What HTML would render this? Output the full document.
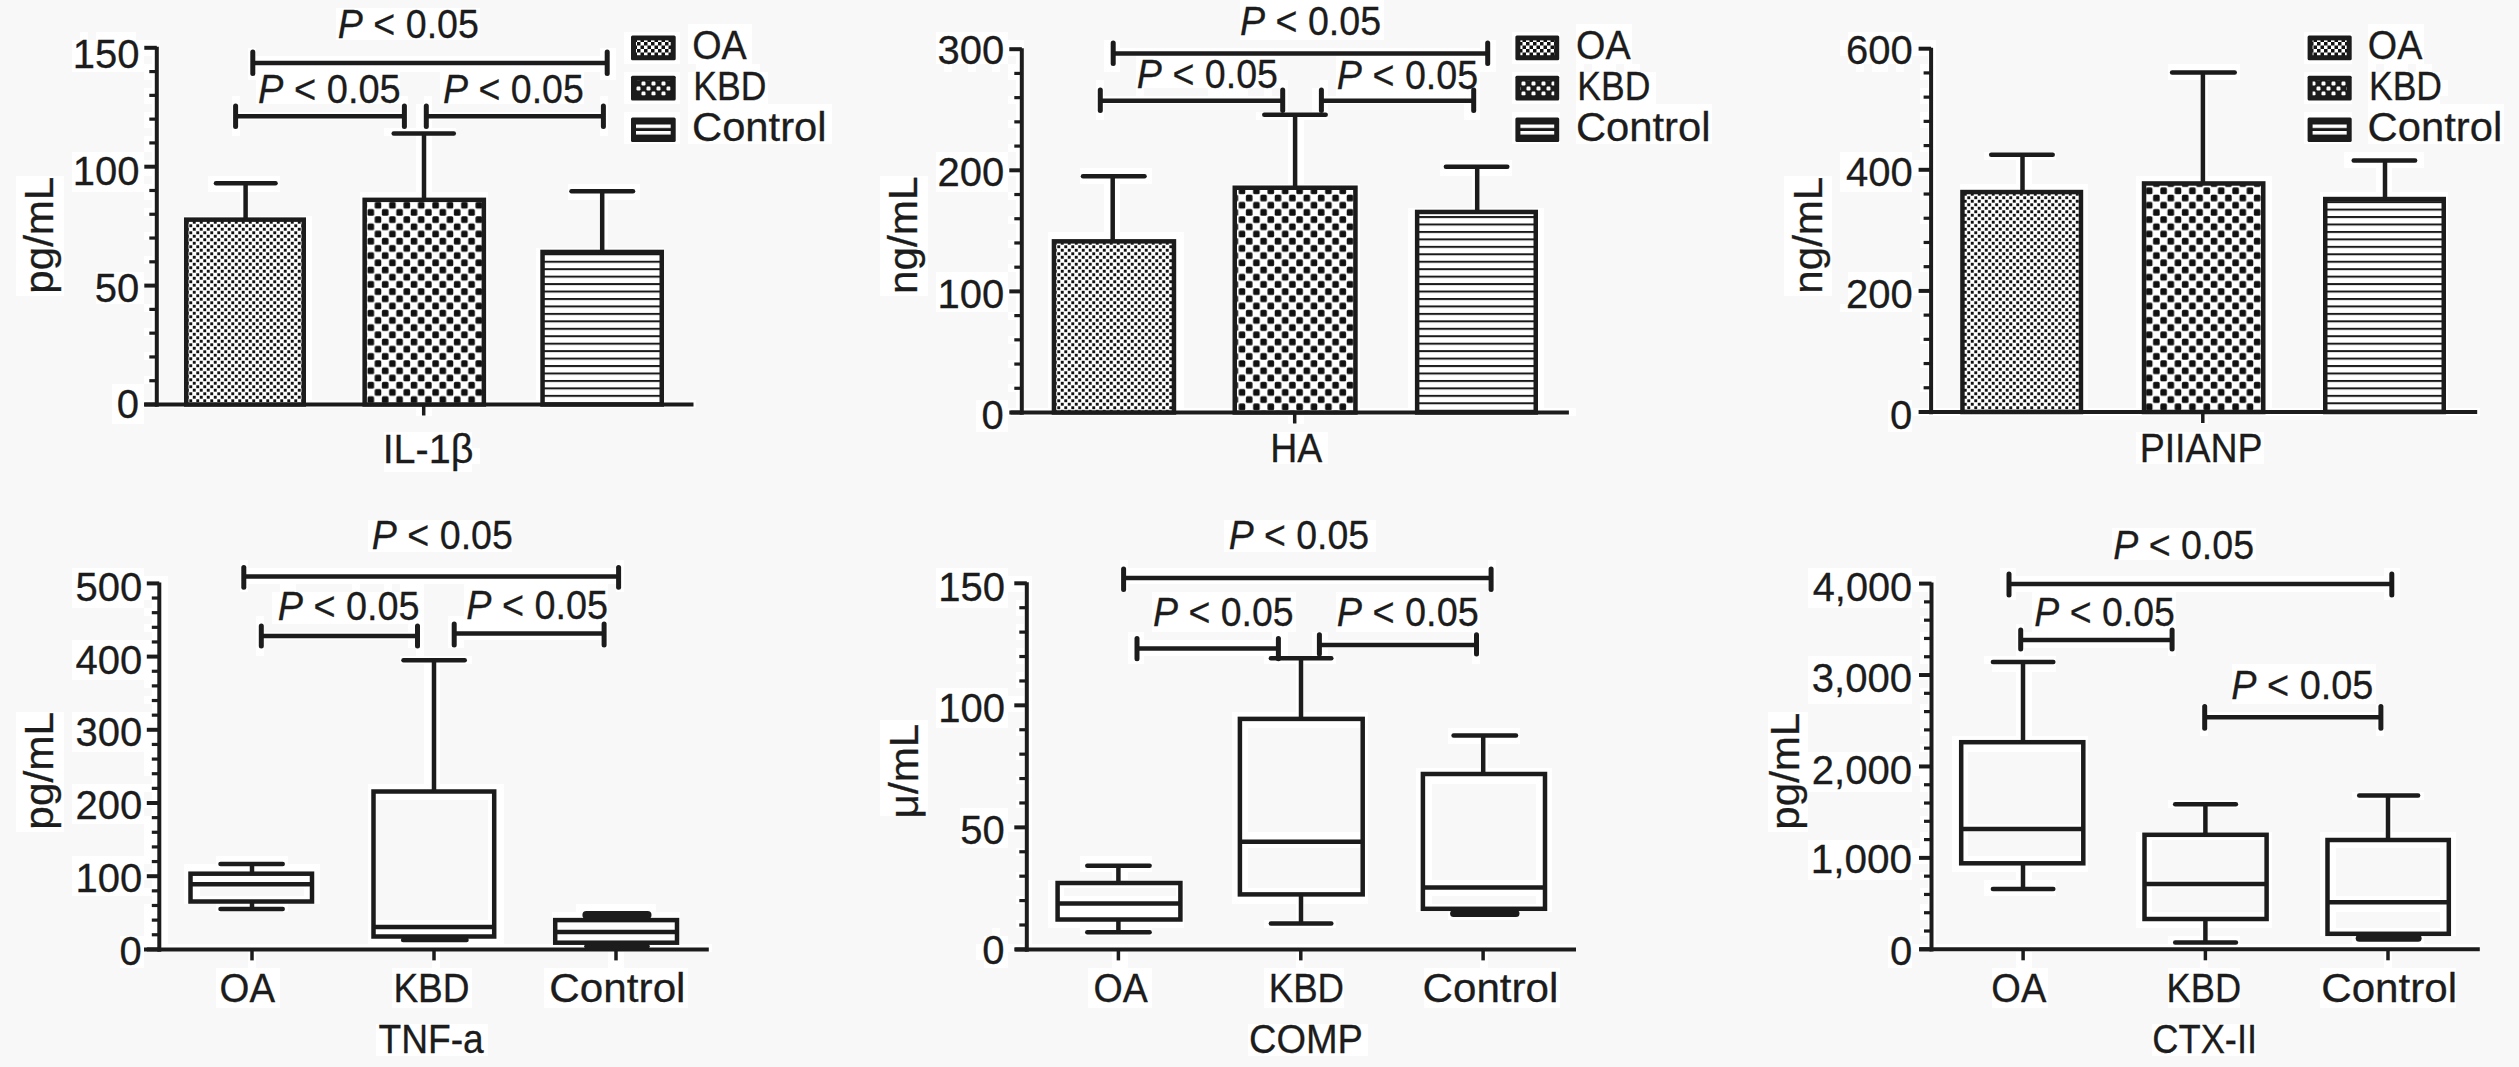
<!DOCTYPE html>
<html><head><meta charset="utf-8"><style>
html,body{margin:0;padding:0;background:#f8f8f8;}
svg{display:block;}
</style></head><body>
<svg width="2519" height="1067" viewBox="0 0 2519 1067" font-family="'Liberation Sans', sans-serif" font-size="40" fill="#1c1c1c" stroke="#1c1c1c">
<defs stroke="none">
<pattern id="pOA" patternUnits="userSpaceOnUse" width="7" height="7">
 <rect width="7" height="7" fill="#fff"/><rect x="0.3" y="0.3" width="2.9" height="2.9" fill="#111"/><rect x="3.8" y="3.8" width="2.9" height="2.9" fill="#111"/></pattern>
<pattern id="pKBD" patternUnits="userSpaceOnUse" width="14.4" height="14.4">
 <rect width="14.4" height="14.4" fill="#fff"/><rect x="0.3" y="0.3" width="6.6" height="6.6" rx="1.5" fill="#111"/><rect x="7.5" y="7.5" width="6.6" height="6.6" rx="1.5" fill="#111"/></pattern>
<pattern id="pCT" patternUnits="userSpaceOnUse" width="10" height="7.45">
 <rect width="10" height="7.45" fill="#fff"/><rect y="0" width="10" height="2" fill="#1a1a1a"/></pattern>
<pattern id="lgOA" patternUnits="userSpaceOnUse" width="7" height="7">
 <rect width="7" height="7" fill="#fff"/><rect width="3.5" height="3.5" fill="#111"/><rect x="3.5" y="3.5" width="3.5" height="3.5" fill="#111"/></pattern>
<pattern id="lgKBD" patternUnits="userSpaceOnUse" width="10" height="10" x="1" y="1">
 <rect width="10" height="10" fill="#1c1c1c"/><rect x="0.5" y="0.5" width="4" height="4" rx="1.2" fill="#fff"/><rect x="5.5" y="5.5" width="4" height="4" rx="1.2" fill="#fff"/></pattern>
<pattern id="lgCT" patternUnits="userSpaceOnUse" width="10" height="6.5" y="1">
 <rect width="10" height="6.5" fill="#fff"/><rect y="3.5" width="10" height="3" fill="#1a1a1a"/></pattern>
</defs>
<rect width="2519" height="1067" fill="#f8f8f8" stroke="none"/>
<path fill="#fff" stroke="none" d="M1240 0h144v8h-144zM336 8h144v8h-144zM1240 8h144v8h-144zM336 16h144v8h-144zM1240 16h144v8h-144zM336 24h144v8h-144zM688 24h64v8h-64zM1240 24h144v8h-144zM1576 24h56v8h-56zM2368 24h56v8h-56zM80 32h8v8h-8zM96 32h40v8h-40zM336 32h144v8h-144zM624 32h56v8h-56zM688 32h64v8h-64zM936 32h72v8h-72zM1240 32h144v8h-144zM1512 32h48v8h-48zM1576 32h56v8h-56zM1848 32h64v8h-64zM2304 32h48v8h-48zM2368 32h56v8h-56zM72 40h88v8h-88zM624 40h56v8h-56zM688 40h64v8h-64zM936 40h88v8h-88zM1104 40h16v8h-16zM1480 40h16v8h-16zM1512 40h48v8h-48zM1576 40h56v8h-56zM1840 40h96v8h-96zM2304 40h48v8h-48zM2368 40h56v8h-56zM72 48h88v8h-88zM248 48h8v8h-8zM600 48h16v8h-16zM624 48h56v8h-56zM688 48h64v8h-64zM936 48h88v8h-88zM1104 48h392v8h-392zM1512 48h48v8h-48zM1576 48h56v8h-56zM1840 48h96v8h-96zM2304 48h48v8h-48zM2368 48h56v8h-56zM72 56h72v8h-72zM152 56h8v8h-8zM248 56h368v8h-368zM624 56h56v8h-56zM688 56h64v8h-64zM936 56h72v8h-72zM1016 56h8v8h-8zM1104 56h16v8h-16zM1136 56h144v8h-144zM1336 56h160v8h-160zM1512 56h48v8h-48zM1576 56h56v8h-56zM1848 56h64v8h-64zM1928 56h8v8h-8zM2304 56h48v8h-48zM2368 56h56v8h-56zM72 64h88v8h-88zM248 64h368v8h-368zM696 64h64v8h-64zM944 64h8v8h-8zM968 64h8v8h-8zM992 64h8v8h-8zM1008 64h16v8h-16zM1104 64h16v8h-16zM1136 64h144v8h-144zM1336 64h160v8h-160zM1576 64h8v8h-8zM1592 64h24v8h-24zM1624 64h16v8h-16zM1856 64h8v8h-8zM1872 64h16v8h-16zM1896 64h8v8h-8zM1920 64h16v8h-16zM2168 64h72v8h-72zM2368 64h8v8h-8zM2384 64h24v8h-24zM2416 64h16v8h-16zM144 72h16v8h-16zM248 72h152v8h-152zM440 72h144v8h-144zM600 72h16v8h-16zM624 72h56v8h-56zM688 72h80v8h-80zM1008 72h16v8h-16zM1136 72h144v8h-144zM1336 72h144v8h-144zM1512 72h48v8h-48zM1576 72h80v8h-80zM1920 72h16v8h-16zM2168 72h72v8h-72zM2304 72h48v8h-48zM2368 72h72v8h-72zM152 80h8v8h-8zM256 80h144v8h-144zM440 80h144v8h-144zM624 80h56v8h-56zM688 80h80v8h-80zM1016 80h8v8h-8zM1096 80h8v8h-8zM1136 80h152v8h-152zM1320 80h8v8h-8zM1336 80h144v8h-144zM1512 80h48v8h-48zM1576 80h80v8h-80zM1928 80h8v8h-8zM2200 80h8v8h-8zM2304 80h48v8h-48zM2368 80h80v8h-80zM144 88h16v8h-16zM256 88h144v8h-144zM440 88h144v8h-144zM624 88h56v8h-56zM688 88h80v8h-80zM1016 88h8v8h-8zM1096 88h8v8h-8zM1136 88h8v8h-8zM1208 88h40v8h-40zM1264 88h8v8h-8zM1280 88h8v8h-8zM1312 88h16v8h-16zM1336 88h144v8h-144zM1512 88h48v8h-48zM1576 88h80v8h-80zM1920 88h16v8h-16zM2200 88h8v8h-8zM2304 88h48v8h-48zM2368 88h80v8h-80zM144 96h16v8h-16zM232 96h8v8h-8zM256 96h152v8h-152zM424 96h8v8h-8zM440 96h144v8h-144zM600 96h8v8h-8zM624 96h56v8h-56zM688 96h80v8h-80zM1008 96h16v8h-16zM1096 96h192v8h-192zM1312 96h168v8h-168zM1512 96h48v8h-48zM1576 96h80v8h-80zM1920 96h16v8h-16zM2200 96h8v8h-8zM2304 96h48v8h-48zM2368 96h72v8h-72zM152 104h8v8h-8zM232 104h8v8h-8zM400 104h8v8h-8zM416 104h16v8h-16zM600 104h8v8h-8zM688 104h144v8h-144zM1016 104h8v8h-8zM1096 104h8v8h-8zM1280 104h8v8h-8zM1312 104h16v8h-16zM1464 104h16v8h-16zM1576 104h136v8h-136zM1928 104h8v8h-8zM2200 104h8v8h-8zM2368 104h136v8h-136zM144 112h16v8h-16zM232 112h176v8h-176zM416 112h192v8h-192zM624 112h56v8h-56zM688 112h144v8h-144zM1016 112h8v8h-8zM1096 112h8v8h-8zM1256 112h72v8h-72zM1464 112h16v8h-16zM1512 112h48v8h-48zM1576 112h136v8h-136zM1920 112h16v8h-16zM2200 112h8v8h-8zM2304 112h48v8h-48zM2368 112h136v8h-136zM144 120h16v8h-16zM232 120h8v8h-8zM400 120h8v8h-8zM416 120h16v8h-16zM600 120h8v8h-8zM624 120h56v8h-56zM688 120h144v8h-144zM1008 120h16v8h-16zM1288 120h16v8h-16zM1512 120h48v8h-48zM1576 120h136v8h-136zM1920 120h16v8h-16zM2200 120h8v8h-8zM2304 120h48v8h-48zM2368 120h136v8h-136zM152 128h8v8h-8zM232 128h8v8h-8zM384 128h72v8h-72zM600 128h8v8h-8zM624 128h56v8h-56zM688 128h144v8h-144zM1016 128h8v8h-8zM1288 128h16v8h-16zM1512 128h48v8h-48zM1576 128h136v8h-136zM1928 128h8v8h-8zM2200 128h8v8h-8zM2304 128h48v8h-48zM2368 128h136v8h-136zM144 136h16v8h-16zM416 136h16v8h-16zM624 136h56v8h-56zM688 136h144v8h-144zM1016 136h8v8h-8zM1288 136h16v8h-16zM1512 136h48v8h-48zM1576 136h136v8h-136zM1928 136h8v8h-8zM2200 136h8v8h-8zM2304 136h48v8h-48zM2368 136h136v8h-136zM144 144h16v8h-16zM416 144h16v8h-16zM1008 144h16v8h-16zM1288 144h16v8h-16zM1920 144h16v8h-16zM2200 144h8v8h-8zM72 152h72v8h-72zM152 152h8v8h-8zM416 152h16v8h-16zM936 152h72v8h-72zM1016 152h8v8h-8zM1288 152h16v8h-16zM1840 152h72v8h-72zM1928 152h8v8h-8zM1984 152h72v8h-72zM2200 152h8v8h-8zM2344 152h80v8h-80zM72 160h88v8h-88zM416 160h16v8h-16zM936 160h72v8h-72zM1016 160h8v8h-8zM1288 160h16v8h-16zM1440 160h72v8h-72zM1840 160h96v8h-96zM2016 160h16v8h-16zM2200 160h8v8h-8zM2344 160h80v8h-80zM72 168h88v8h-88zM416 168h16v8h-16zM936 168h88v8h-88zM1080 168h72v8h-72zM1288 168h16v8h-16zM1440 168h72v8h-72zM1840 168h96v8h-96zM2016 168h16v8h-16zM2200 168h8v8h-8zM2376 168h16v8h-16zM16 176h48v8h-48zM72 176h72v8h-72zM152 176h8v8h-8zM208 176h72v8h-72zM416 176h16v8h-16zM880 176h48v8h-48zM936 176h72v8h-72zM1016 176h8v8h-8zM1080 176h72v8h-72zM1288 176h16v8h-16zM1472 176h8v8h-8zM1784 176h48v8h-48zM1840 176h72v8h-72zM1928 176h8v8h-8zM2016 176h16v8h-16zM2136 176h136v8h-136zM2376 176h16v8h-16zM16 184h48v8h-48zM72 184h88v8h-88zM208 184h72v8h-72zM416 184h16v8h-16zM568 184h72v8h-72zM880 184h48v8h-48zM936 184h72v8h-72zM1016 184h8v8h-8zM1104 184h16v8h-16zM1232 184h128v8h-128zM1472 184h8v8h-8zM1784 184h48v8h-48zM1840 184h72v8h-72zM1928 184h8v8h-8zM1960 184h128v8h-128zM2136 184h136v8h-136zM2376 184h16v8h-16zM16 192h48v8h-48zM144 192h16v8h-16zM240 192h8v8h-8zM360 192h128v8h-128zM568 192h72v8h-72zM880 192h48v8h-48zM1008 192h16v8h-16zM1104 192h16v8h-16zM1232 192h128v8h-128zM1472 192h8v8h-8zM1784 192h48v8h-48zM1920 192h16v8h-16zM1960 192h128v8h-128zM2136 192h136v8h-136zM2320 192h128v8h-128zM16 200h48v8h-48zM152 200h8v8h-8zM240 200h8v8h-8zM360 200h128v8h-128zM600 200h8v8h-8zM880 200h48v8h-48zM1016 200h8v8h-8zM1104 200h16v8h-16zM1232 200h128v8h-128zM1472 200h8v8h-8zM1784 200h48v8h-48zM1928 200h8v8h-8zM1960 200h128v8h-128zM2136 200h136v8h-136zM2320 200h128v8h-128zM16 208h48v8h-48zM144 208h16v8h-16zM240 208h8v8h-8zM360 208h128v8h-128zM600 208h8v8h-8zM880 208h48v8h-48zM1016 208h8v8h-8zM1104 208h16v8h-16zM1232 208h128v8h-128zM1408 208h136v8h-136zM1784 208h48v8h-48zM1928 208h8v8h-8zM1960 208h128v8h-128zM2136 208h136v8h-136zM2320 208h128v8h-128zM16 216h48v8h-48zM152 216h8v8h-8zM184 216h128v8h-128zM360 216h128v8h-128zM600 216h8v8h-8zM880 216h48v8h-48zM1008 216h16v8h-16zM1104 216h16v8h-16zM1232 216h128v8h-128zM1408 216h136v8h-136zM1784 216h48v8h-48zM1920 216h16v8h-16zM1960 216h128v8h-128zM2136 216h136v8h-136zM2320 216h128v8h-128zM16 224h48v8h-48zM152 224h8v8h-8zM184 224h128v8h-128zM360 224h128v8h-128zM600 224h8v8h-8zM880 224h48v8h-48zM1016 224h8v8h-8zM1104 224h16v8h-16zM1232 224h128v8h-128zM1408 224h136v8h-136zM1784 224h48v8h-48zM1928 224h8v8h-8zM1960 224h128v8h-128zM2136 224h136v8h-136zM2320 224h128v8h-128zM16 232h48v8h-48zM144 232h16v8h-16zM184 232h128v8h-128zM360 232h128v8h-128zM600 232h8v8h-8zM880 232h48v8h-48zM1016 232h8v8h-8zM1048 232h136v8h-136zM1232 232h128v8h-128zM1408 232h136v8h-136zM1784 232h48v8h-48zM1928 232h8v8h-8zM1960 232h128v8h-128zM2136 232h136v8h-136zM2320 232h128v8h-128zM16 240h48v8h-48zM152 240h8v8h-8zM184 240h128v8h-128zM360 240h128v8h-128zM600 240h8v8h-8zM880 240h48v8h-48zM1008 240h16v8h-16zM1048 240h136v8h-136zM1232 240h128v8h-128zM1408 240h136v8h-136zM1784 240h48v8h-48zM1920 240h16v8h-16zM1960 240h128v8h-128zM2136 240h136v8h-136zM2320 240h128v8h-128zM16 248h48v8h-48zM152 248h8v8h-8zM184 248h128v8h-128zM360 248h128v8h-128zM536 248h128v8h-128zM880 248h48v8h-48zM1016 248h8v8h-8zM1048 248h136v8h-136zM1232 248h128v8h-128zM1408 248h136v8h-136zM1784 248h48v8h-48zM1928 248h8v8h-8zM1960 248h128v8h-128zM2136 248h136v8h-136zM2320 248h128v8h-128zM16 256h48v8h-48zM144 256h16v8h-16zM184 256h128v8h-128zM360 256h128v8h-128zM536 256h128v8h-128zM880 256h48v8h-48zM1016 256h8v8h-8zM1048 256h136v8h-136zM1232 256h128v8h-128zM1408 256h136v8h-136zM1784 256h48v8h-48zM1928 256h8v8h-8zM1960 256h128v8h-128zM2136 256h136v8h-136zM2320 256h128v8h-128zM16 264h48v8h-48zM152 264h8v8h-8zM184 264h128v8h-128zM360 264h128v8h-128zM536 264h128v8h-128zM880 264h48v8h-48zM1008 264h16v8h-16zM1048 264h136v8h-136zM1232 264h128v8h-128zM1408 264h136v8h-136zM1784 264h48v8h-48zM1920 264h16v8h-16zM1960 264h128v8h-128zM2136 264h136v8h-136zM2320 264h128v8h-128zM16 272h48v8h-48zM96 272h48v8h-48zM152 272h8v8h-8zM184 272h128v8h-128zM360 272h128v8h-128zM536 272h128v8h-128zM880 272h48v8h-48zM936 272h72v8h-72zM1016 272h8v8h-8zM1048 272h136v8h-136zM1232 272h128v8h-128zM1408 272h136v8h-136zM1784 272h48v8h-48zM1848 272h64v8h-64zM1928 272h8v8h-8zM1960 272h128v8h-128zM2136 272h136v8h-136zM2320 272h128v8h-128zM16 280h48v8h-48zM96 280h64v8h-64zM184 280h128v8h-128zM360 280h128v8h-128zM536 280h128v8h-128zM880 280h48v8h-48zM936 280h72v8h-72zM1016 280h8v8h-8zM1048 280h136v8h-136zM1232 280h128v8h-128zM1408 280h136v8h-136zM1784 280h48v8h-48zM1848 280h64v8h-64zM1928 280h8v8h-8zM1960 280h128v8h-128zM2136 280h136v8h-136zM2320 280h128v8h-128zM16 288h48v8h-48zM96 288h48v8h-48zM152 288h8v8h-8zM184 288h128v8h-128zM360 288h128v8h-128zM536 288h128v8h-128zM880 288h48v8h-48zM936 288h88v8h-88zM1048 288h136v8h-136zM1232 288h128v8h-128zM1408 288h136v8h-136zM1784 288h48v8h-48zM1848 288h88v8h-88zM1960 288h128v8h-128zM2136 288h136v8h-136zM2320 288h128v8h-128zM96 296h48v8h-48zM152 296h8v8h-8zM184 296h128v8h-128zM360 296h128v8h-128zM536 296h128v8h-128zM936 296h72v8h-72zM1016 296h8v8h-8zM1048 296h136v8h-136zM1232 296h128v8h-128zM1408 296h136v8h-136zM1848 296h64v8h-64zM1928 296h8v8h-8zM1960 296h128v8h-128zM2136 296h136v8h-136zM2320 296h128v8h-128zM144 304h16v8h-16zM184 304h128v8h-128zM360 304h128v8h-128zM536 304h128v8h-128zM936 304h72v8h-72zM1016 304h8v8h-8zM1048 304h136v8h-136zM1232 304h128v8h-128zM1408 304h136v8h-136zM1840 304h72v8h-72zM1928 304h8v8h-8zM1960 304h128v8h-128zM2136 304h136v8h-136zM2320 304h128v8h-128zM152 312h8v8h-8zM184 312h128v8h-128zM360 312h128v8h-128zM536 312h128v8h-128zM1008 312h16v8h-16zM1048 312h136v8h-136zM1232 312h128v8h-128zM1408 312h136v8h-136zM1920 312h16v8h-16zM1960 312h128v8h-128zM2136 312h136v8h-136zM2320 312h128v8h-128zM152 320h8v8h-8zM184 320h128v8h-128zM360 320h128v8h-128zM536 320h128v8h-128zM1016 320h8v8h-8zM1048 320h136v8h-136zM1232 320h128v8h-128zM1408 320h136v8h-136zM1928 320h8v8h-8zM1960 320h128v8h-128zM2136 320h136v8h-136zM2320 320h128v8h-128zM144 328h16v8h-16zM184 328h128v8h-128zM360 328h128v8h-128zM536 328h128v8h-128zM1016 328h8v8h-8zM1048 328h136v8h-136zM1232 328h128v8h-128zM1408 328h136v8h-136zM1928 328h8v8h-8zM1960 328h128v8h-128zM2136 328h136v8h-136zM2320 328h128v8h-128zM152 336h8v8h-8zM184 336h128v8h-128zM360 336h128v8h-128zM536 336h128v8h-128zM1008 336h16v8h-16zM1048 336h136v8h-136zM1232 336h128v8h-128zM1408 336h136v8h-136zM1920 336h16v8h-16zM1960 336h128v8h-128zM2136 336h136v8h-136zM2320 336h128v8h-128zM152 344h8v8h-8zM184 344h128v8h-128zM360 344h128v8h-128zM536 344h128v8h-128zM1016 344h8v8h-8zM1048 344h136v8h-136zM1232 344h128v8h-128zM1408 344h136v8h-136zM1928 344h8v8h-8zM1960 344h128v8h-128zM2136 344h136v8h-136zM2320 344h128v8h-128zM144 352h16v8h-16zM184 352h128v8h-128zM360 352h128v8h-128zM536 352h128v8h-128zM1016 352h8v8h-8zM1048 352h136v8h-136zM1232 352h128v8h-128zM1408 352h136v8h-136zM1928 352h8v8h-8zM1960 352h128v8h-128zM2136 352h136v8h-136zM2320 352h128v8h-128zM152 360h8v8h-8zM184 360h128v8h-128zM360 360h128v8h-128zM536 360h128v8h-128zM1008 360h16v8h-16zM1048 360h136v8h-136zM1232 360h128v8h-128zM1408 360h136v8h-136zM1920 360h16v8h-16zM1960 360h128v8h-128zM2136 360h136v8h-136zM2320 360h128v8h-128zM152 368h8v8h-8zM184 368h128v8h-128zM360 368h128v8h-128zM536 368h128v8h-128zM1016 368h8v8h-8zM1048 368h136v8h-136zM1232 368h128v8h-128zM1408 368h136v8h-136zM1928 368h8v8h-8zM1960 368h128v8h-128zM2136 368h136v8h-136zM2320 368h128v8h-128zM144 376h16v8h-16zM184 376h128v8h-128zM360 376h128v8h-128zM536 376h128v8h-128zM1016 376h8v8h-8zM1048 376h136v8h-136zM1232 376h128v8h-128zM1408 376h136v8h-136zM1928 376h8v8h-8zM1960 376h128v8h-128zM2136 376h136v8h-136zM2320 376h128v8h-128zM112 384h32v8h-32zM152 384h8v8h-8zM184 384h128v8h-128zM360 384h128v8h-128zM536 384h128v8h-128zM1008 384h16v8h-16zM1048 384h136v8h-136zM1232 384h128v8h-128zM1408 384h136v8h-136zM1920 384h16v8h-16zM1960 384h128v8h-128zM2136 384h136v8h-136zM2320 384h128v8h-128zM112 392h32v8h-32zM152 392h8v8h-8zM184 392h128v8h-128zM360 392h128v8h-128zM536 392h128v8h-128zM1016 392h8v8h-8zM1048 392h136v8h-136zM1232 392h128v8h-128zM1408 392h136v8h-136zM1928 392h8v8h-8zM1960 392h128v8h-128zM2136 392h136v8h-136zM2320 392h128v8h-128zM112 400h584v8h-584zM976 400h32v8h-32zM1016 400h8v8h-8zM1048 400h136v8h-136zM1232 400h128v8h-128zM1408 400h136v8h-136zM1888 400h24v8h-24zM1928 400h8v8h-8zM1960 400h128v8h-128zM2136 400h136v8h-136zM2320 400h128v8h-128zM112 408h32v8h-32zM416 408h16v8h-16zM976 408h600v8h-600zM1888 408h592v8h-592zM112 416h32v8h-32zM976 416h32v8h-32zM1288 416h16v8h-16zM1888 416h24v8h-24zM2200 416h8v8h-8zM976 424h32v8h-32zM1888 424h24v8h-24zM384 432h88v8h-88zM1272 432h56v8h-56zM2136 432h128v8h-128zM384 440h88v8h-88zM1272 440h56v8h-56zM2136 440h128v8h-128zM384 448h96v8h-96zM1272 448h56v8h-56zM2136 448h128v8h-128zM384 456h96v8h-96zM1272 456h56v8h-56zM2136 456h128v8h-128zM384 464h88v8h-88zM368 520h144v8h-144zM1224 520h152v8h-152zM368 528h144v8h-144zM1224 528h152v8h-152zM2112 528h144v8h-144zM368 536h144v8h-144zM1224 536h152v8h-152zM2112 536h144v8h-144zM368 544h144v8h-144zM1224 544h152v8h-152zM2112 544h144v8h-144zM2112 552h144v8h-144zM240 560h8v8h-8zM616 560h8v8h-8zM1120 560h8v8h-8zM1488 560h8v8h-8zM72 568h72v8h-72zM240 568h384v8h-384zM936 568h72v8h-72zM1120 568h376v8h-376zM1808 568h104v8h-104zM2000 568h16v8h-16zM2384 568h16v8h-16zM72 576h96v8h-96zM240 576h384v8h-384zM936 576h96v8h-96zM1120 576h376v8h-376zM1808 576h128v8h-128zM2000 576h400v8h-400zM72 584h96v8h-96zM240 584h8v8h-8zM280 584h16v8h-16zM352 584h8v8h-8zM384 584h8v8h-8zM400 584h24v8h-24zM464 584h144v8h-144zM616 584h8v8h-8zM936 584h96v8h-96zM1120 584h8v8h-8zM1488 584h8v8h-8zM1808 584h128v8h-128zM2000 584h400v8h-400zM72 592h96v8h-96zM272 592h152v8h-152zM464 592h144v8h-144zM936 592h72v8h-72zM1024 592h8v8h-8zM1152 592h144v8h-144zM1336 592h144v8h-144zM1808 592h104v8h-104zM1928 592h8v8h-8zM2000 592h16v8h-16zM2032 592h144v8h-144zM2384 592h16v8h-16zM72 600h72v8h-72zM152 600h16v8h-16zM272 600h152v8h-152zM464 600h144v8h-144zM936 600h72v8h-72zM1016 600h16v8h-16zM1152 600h144v8h-144zM1336 600h144v8h-144zM1808 600h104v8h-104zM1920 600h16v8h-16zM2032 600h144v8h-144zM144 608h24v8h-24zM272 608h152v8h-152zM464 608h144v8h-144zM1016 608h16v8h-16zM1152 608h144v8h-144zM1336 608h144v8h-144zM1928 608h8v8h-8zM2032 608h144v8h-144zM152 616h16v8h-16zM256 616h8v8h-8zM272 616h152v8h-152zM448 616h160v8h-160zM1024 616h8v8h-8zM1152 616h144v8h-144zM1336 616h144v8h-144zM1920 616h16v8h-16zM2032 616h144v8h-144zM144 624h24v8h-24zM256 624h8v8h-8zM408 624h16v8h-16zM448 624h160v8h-160zM1016 624h16v8h-16zM1152 624h144v8h-144zM1336 624h144v8h-144zM1928 624h8v8h-8zM2016 624h8v8h-8zM2032 624h144v8h-144zM152 632h16v8h-16zM256 632h168v8h-168zM448 632h160v8h-160zM1016 632h16v8h-16zM1128 632h16v8h-16zM1272 632h16v8h-16zM1312 632h16v8h-16zM1472 632h8v8h-8zM1920 632h16v8h-16zM2016 632h160v8h-160zM72 640h96v8h-96zM256 640h8v8h-8zM408 640h16v8h-16zM448 640h16v8h-16zM600 640h8v8h-8zM1024 640h8v8h-8zM1128 640h160v8h-160zM1312 640h168v8h-168zM1920 640h16v8h-16zM2016 640h160v8h-160zM72 648h96v8h-96zM256 648h8v8h-8zM416 648h8v8h-8zM1016 648h16v8h-16zM1128 648h160v8h-160zM1312 648h16v8h-16zM1472 648h8v8h-8zM1920 648h16v8h-16zM2016 648h8v8h-8zM2168 648h8v8h-8zM72 656h96v8h-96zM400 656h72v8h-72zM1016 656h16v8h-16zM1128 656h16v8h-16zM1264 656h72v8h-72zM1472 656h8v8h-8zM1808 656h104v8h-104zM1920 656h16v8h-16zM1984 656h72v8h-72zM72 664h96v8h-96zM424 664h16v8h-16zM1024 664h8v8h-8zM1296 664h8v8h-8zM1808 664h104v8h-104zM1928 664h8v8h-8zM1992 664h64v8h-64zM2232 664h144v8h-144zM72 672h96v8h-96zM424 672h16v8h-16zM1016 672h16v8h-16zM1296 672h8v8h-8zM1808 672h128v8h-128zM2016 672h16v8h-16zM2232 672h144v8h-144zM144 680h24v8h-24zM424 680h16v8h-16zM1016 680h16v8h-16zM1296 680h8v8h-8zM1808 680h104v8h-104zM1928 680h8v8h-8zM2016 680h16v8h-16zM2232 680h144v8h-144zM152 688h16v8h-16zM424 688h16v8h-16zM936 688h72v8h-72zM1024 688h8v8h-8zM1296 688h8v8h-8zM1808 688h104v8h-104zM1920 688h16v8h-16zM2016 688h16v8h-16zM2232 688h144v8h-144zM144 696h24v8h-24zM424 696h16v8h-16zM936 696h96v8h-96zM1296 696h8v8h-8zM1808 696h104v8h-104zM1928 696h8v8h-8zM2016 696h16v8h-16zM2232 696h144v8h-144zM152 704h16v8h-16zM424 704h16v8h-16zM936 704h96v8h-96zM1296 704h8v8h-8zM1920 704h16v8h-16zM2016 704h16v8h-16zM2200 704h8v8h-8zM2376 704h8v8h-8zM16 712h48v8h-48zM72 712h96v8h-96zM424 712h16v8h-16zM936 712h72v8h-72zM1024 712h8v8h-8zM1232 712h136v8h-136zM1768 712h40v8h-40zM1920 712h16v8h-16zM2016 712h16v8h-16zM2200 712h184v8h-184zM16 720h48v8h-48zM72 720h96v8h-96zM424 720h16v8h-16zM880 720h48v8h-48zM936 720h72v8h-72zM1024 720h8v8h-8zM1232 720h136v8h-136zM1768 720h40v8h-40zM1928 720h8v8h-8zM2016 720h16v8h-16zM2200 720h8v8h-8zM2376 720h8v8h-8zM16 728h48v8h-48zM72 728h96v8h-96zM424 728h16v8h-16zM880 728h48v8h-48zM1016 728h16v8h-16zM1232 728h16v8h-16zM1360 728h8v8h-8zM1448 728h72v8h-72zM1768 728h40v8h-40zM1920 728h16v8h-16zM2016 728h16v8h-16zM2200 728h8v8h-8zM2376 728h8v8h-8zM16 736h48v8h-48zM72 736h96v8h-96zM424 736h16v8h-16zM880 736h48v8h-48zM1024 736h8v8h-8zM1232 736h16v8h-16zM1360 736h8v8h-8zM1448 736h72v8h-72zM1768 736h40v8h-40zM1928 736h8v8h-8zM1952 736h136v8h-136zM16 744h48v8h-48zM72 744h96v8h-96zM424 744h16v8h-16zM880 744h48v8h-48zM1024 744h8v8h-8zM1232 744h16v8h-16zM1360 744h8v8h-8zM1480 744h8v8h-8zM1768 744h40v8h-40zM1920 744h16v8h-16zM1952 744h136v8h-136zM16 752h48v8h-48zM144 752h24v8h-24zM424 752h16v8h-16zM880 752h48v8h-48zM1016 752h16v8h-16zM1232 752h16v8h-16zM1360 752h8v8h-8zM1480 752h8v8h-8zM1768 752h144v8h-144zM1928 752h8v8h-8zM1952 752h16v8h-16zM2080 752h8v8h-8zM16 760h48v8h-48zM144 760h24v8h-24zM424 760h16v8h-16zM880 760h48v8h-48zM1024 760h8v8h-8zM1232 760h16v8h-16zM1360 760h8v8h-8zM1480 760h8v8h-8zM1768 760h168v8h-168zM1952 760h16v8h-16zM2080 760h8v8h-8zM16 768h48v8h-48zM144 768h24v8h-24zM424 768h16v8h-16zM880 768h48v8h-48zM1024 768h8v8h-8zM1232 768h16v8h-16zM1360 768h8v8h-8zM1416 768h136v8h-136zM1768 768h168v8h-168zM1952 768h16v8h-16zM2080 768h8v8h-8zM16 776h48v8h-48zM152 776h16v8h-16zM424 776h16v8h-16zM880 776h48v8h-48zM1016 776h16v8h-16zM1232 776h16v8h-16zM1360 776h8v8h-8zM1416 776h136v8h-136zM1768 776h144v8h-144zM1920 776h16v8h-16zM1952 776h16v8h-16zM2080 776h8v8h-8zM16 784h48v8h-48zM72 784h96v8h-96zM368 784h136v8h-136zM880 784h48v8h-48zM1024 784h8v8h-8zM1232 784h16v8h-16zM1360 784h8v8h-8zM1416 784h16v8h-16zM1536 784h16v8h-16zM1768 784h144v8h-144zM1920 784h16v8h-16zM1952 784h16v8h-16zM2080 784h8v8h-8zM16 792h48v8h-48zM72 792h72v8h-72zM152 792h16v8h-16zM368 792h136v8h-136zM880 792h48v8h-48zM1024 792h8v8h-8zM1232 792h16v8h-16zM1360 792h8v8h-8zM1416 792h16v8h-16zM1536 792h16v8h-16zM1768 792h40v8h-40zM1928 792h8v8h-8zM1952 792h16v8h-16zM2080 792h8v8h-8zM2352 792h72v8h-72zM16 800h48v8h-48zM72 800h96v8h-96zM368 800h8v8h-8zM488 800h16v8h-16zM880 800h48v8h-48zM1016 800h16v8h-16zM1232 800h16v8h-16zM1360 800h8v8h-8zM1416 800h16v8h-16zM1536 800h16v8h-16zM1768 800h40v8h-40zM1920 800h16v8h-16zM1952 800h16v8h-16zM2080 800h8v8h-8zM2168 800h72v8h-72zM2384 800h8v8h-8zM16 808h48v8h-48zM72 808h72v8h-72zM152 808h16v8h-16zM368 808h8v8h-8zM488 808h16v8h-16zM880 808h48v8h-48zM960 808h48v8h-48zM1024 808h8v8h-8zM1232 808h16v8h-16zM1360 808h8v8h-8zM1416 808h16v8h-16zM1536 808h16v8h-16zM1768 808h40v8h-40zM1928 808h8v8h-8zM1952 808h16v8h-16zM2080 808h8v8h-8zM2200 808h8v8h-8zM2384 808h8v8h-8zM16 816h48v8h-48zM72 816h96v8h-96zM368 816h8v8h-8zM488 816h16v8h-16zM960 816h48v8h-48zM1024 816h8v8h-8zM1232 816h16v8h-16zM1360 816h8v8h-8zM1416 816h16v8h-16zM1536 816h16v8h-16zM1768 816h40v8h-40zM1920 816h16v8h-16zM1952 816h16v8h-16zM2080 816h8v8h-8zM2200 816h8v8h-8zM2384 816h8v8h-8zM16 824h48v8h-48zM144 824h24v8h-24zM368 824h8v8h-8zM488 824h16v8h-16zM960 824h72v8h-72zM1232 824h16v8h-16zM1360 824h8v8h-8zM1416 824h16v8h-16zM1536 824h16v8h-16zM1768 824h40v8h-40zM1928 824h8v8h-8zM1952 824h136v8h-136zM2200 824h8v8h-8zM2384 824h8v8h-8zM144 832h24v8h-24zM368 832h8v8h-8zM488 832h16v8h-16zM960 832h48v8h-48zM1024 832h8v8h-8zM1232 832h136v8h-136zM1416 832h16v8h-16zM1536 832h16v8h-16zM1920 832h16v8h-16zM1952 832h16v8h-16zM2080 832h8v8h-8zM2136 832h136v8h-136zM2320 832h136v8h-136zM144 840h24v8h-24zM368 840h8v8h-8zM488 840h16v8h-16zM960 840h48v8h-48zM1024 840h8v8h-8zM1232 840h136v8h-136zM1416 840h16v8h-16zM1536 840h16v8h-16zM1808 840h104v8h-104zM1920 840h16v8h-16zM1952 840h16v8h-16zM2080 840h8v8h-8zM2136 840h16v8h-16zM2264 840h8v8h-8zM2320 840h136v8h-136zM144 848h24v8h-24zM368 848h8v8h-8zM488 848h16v8h-16zM1016 848h16v8h-16zM1232 848h16v8h-16zM1360 848h8v8h-8zM1416 848h16v8h-16zM1536 848h16v8h-16zM1808 848h128v8h-128zM1952 848h16v8h-16zM2080 848h8v8h-8zM2136 848h16v8h-16zM2264 848h8v8h-8zM2320 848h16v8h-16zM2440 848h16v8h-16zM72 856h96v8h-96zM216 856h72v8h-72zM368 856h8v8h-8zM488 856h16v8h-16zM1024 856h8v8h-8zM1080 856h72v8h-72zM1232 856h16v8h-16zM1360 856h8v8h-8zM1416 856h16v8h-16zM1536 856h16v8h-16zM1808 856h128v8h-128zM1952 856h136v8h-136zM2136 856h16v8h-16zM2264 856h8v8h-8zM2320 856h16v8h-16zM2440 856h16v8h-16zM72 864h72v8h-72zM152 864h16v8h-16zM184 864h136v8h-136zM368 864h8v8h-8zM488 864h16v8h-16zM1024 864h8v8h-8zM1080 864h72v8h-72zM1232 864h16v8h-16zM1360 864h8v8h-8zM1416 864h16v8h-16zM1536 864h16v8h-16zM1808 864h104v8h-104zM1928 864h8v8h-8zM1952 864h136v8h-136zM2136 864h16v8h-16zM2264 864h8v8h-8zM2320 864h16v8h-16zM2440 864h16v8h-16zM72 872h96v8h-96zM184 872h136v8h-136zM368 872h8v8h-8zM488 872h16v8h-16zM1016 872h16v8h-16zM1112 872h16v8h-16zM1232 872h16v8h-16zM1360 872h8v8h-8zM1416 872h16v8h-16zM1536 872h16v8h-16zM1808 872h104v8h-104zM1920 872h16v8h-16zM2016 872h16v8h-16zM2136 872h16v8h-16zM2264 872h8v8h-8zM2320 872h16v8h-16zM2440 872h16v8h-16zM72 880h72v8h-72zM152 880h16v8h-16zM184 880h136v8h-136zM368 880h8v8h-8zM488 880h16v8h-16zM1024 880h8v8h-8zM1048 880h136v8h-136zM1232 880h16v8h-16zM1360 880h8v8h-8zM1416 880h136v8h-136zM1928 880h8v8h-8zM1984 880h72v8h-72zM2136 880h136v8h-136zM2320 880h16v8h-16zM2440 880h16v8h-16zM72 888h96v8h-96zM184 888h16v8h-16zM304 888h16v8h-16zM368 888h8v8h-8zM488 888h16v8h-16zM1024 888h8v8h-8zM1048 888h16v8h-16zM1176 888h8v8h-8zM1232 888h136v8h-136zM1416 888h136v8h-136zM1920 888h16v8h-16zM1984 888h72v8h-72zM2136 888h16v8h-16zM2264 888h8v8h-8zM2320 888h16v8h-16zM2440 888h16v8h-16zM152 896h16v8h-16zM184 896h136v8h-136zM368 896h8v8h-8zM488 896h16v8h-16zM1016 896h16v8h-16zM1048 896h136v8h-136zM1232 896h136v8h-136zM1416 896h16v8h-16zM1536 896h16v8h-16zM1928 896h8v8h-8zM2136 896h16v8h-16zM2264 896h8v8h-8zM2320 896h136v8h-136zM144 904h24v8h-24zM216 904h72v8h-72zM368 904h8v8h-8zM488 904h16v8h-16zM576 904h80v8h-80zM1024 904h8v8h-8zM1048 904h136v8h-136zM1296 904h8v8h-8zM1416 904h136v8h-136zM1920 904h16v8h-16zM2136 904h16v8h-16zM2264 904h8v8h-8zM2320 904h136v8h-136zM144 912h24v8h-24zM368 912h8v8h-8zM488 912h16v8h-16zM552 912h128v8h-128zM1024 912h8v8h-8zM1048 912h136v8h-136zM1296 912h8v8h-8zM1448 912h72v8h-72zM1920 912h16v8h-16zM2136 912h136v8h-136zM2320 912h16v8h-16zM2440 912h16v8h-16zM144 920h24v8h-24zM368 920h136v8h-136zM552 920h128v8h-128zM1016 920h16v8h-16zM1048 920h136v8h-136zM1264 920h72v8h-72zM1928 920h8v8h-8zM2136 920h136v8h-136zM2320 920h16v8h-16zM2440 920h16v8h-16zM144 928h24v8h-24zM368 928h136v8h-136zM552 928h128v8h-128zM992 928h8v8h-8zM1024 928h8v8h-8zM1080 928h72v8h-72zM1920 928h16v8h-16zM2200 928h8v8h-8zM2320 928h136v8h-136zM120 936h48v8h-48zM368 936h136v8h-136zM552 936h128v8h-128zM984 936h24v8h-24zM1024 936h8v8h-8zM1888 936h24v8h-24zM1928 936h8v8h-8zM2168 936h72v8h-72zM2352 936h72v8h-72zM120 944h592v8h-592zM976 944h600v8h-600zM1888 944h592v8h-592zM120 952h24v8h-24zM248 952h8v8h-8zM432 952h8v8h-8zM608 952h16v8h-16zM976 952h32v8h-32zM1112 952h16v8h-16zM1296 952h8v8h-8zM1480 952h8v8h-8zM1888 952h24v8h-24zM2016 952h16v8h-16zM2200 952h8v8h-8zM2384 952h8v8h-8zM120 960h24v8h-24zM248 960h8v8h-8zM432 960h8v8h-8zM608 960h16v8h-16zM984 960h24v8h-24zM1112 960h16v8h-16zM1296 960h8v8h-8zM1480 960h8v8h-8zM1888 960h24v8h-24zM2016 960h16v8h-16zM2200 960h8v8h-8zM2384 960h8v8h-8zM216 968h64v8h-64zM392 968h80v8h-80zM544 968h144v8h-144zM1088 968h64v8h-64zM1264 968h80v8h-80zM1424 968h136v8h-136zM1992 968h56v8h-56zM2168 968h72v8h-72zM2320 968h136v8h-136zM216 976h64v8h-64zM392 976h80v8h-80zM544 976h144v8h-144zM1088 976h64v8h-64zM1264 976h80v8h-80zM1424 976h136v8h-136zM1992 976h56v8h-56zM2168 976h72v8h-72zM2320 976h136v8h-136zM216 984h64v8h-64zM392 984h80v8h-80zM544 984h144v8h-144zM1088 984h64v8h-64zM1264 984h80v8h-80zM1424 984h136v8h-136zM1992 984h56v8h-56zM2168 984h72v8h-72zM2320 984h136v8h-136zM216 992h64v8h-64zM392 992h80v8h-80zM544 992h144v8h-144zM1088 992h64v8h-64zM1264 992h80v8h-80zM1424 992h136v8h-136zM1992 992h56v8h-56zM2168 992h72v8h-72zM2320 992h136v8h-136zM216 1000h64v8h-64zM392 1000h80v8h-80zM544 1000h144v8h-144zM1088 1000h64v8h-64zM1264 1000h80v8h-80zM1424 1000h136v8h-136zM1992 1000h56v8h-56zM2168 1000h72v8h-72zM2320 1000h136v8h-136zM376 1024h112v8h-112zM1248 1024h120v8h-120zM2152 1024h104v8h-104zM376 1032h112v8h-112zM1248 1032h120v8h-120zM2152 1032h104v8h-104zM376 1040h112v8h-112zM1248 1040h120v8h-120zM2152 1040h104v8h-104zM376 1048h112v8h-112zM1248 1048h120v8h-120zM2152 1048h104v8h-104z"/>
<g stroke="none">
</g>
<g fill="none">
<line x1="156.80" y1="46.80" x2="156.80" y2="406.75" stroke-width="4" stroke-linecap="butt"/>
<line x1="144.10" y1="404.50" x2="693.50" y2="404.50" stroke-width="4" stroke-linecap="butt"/>
<line x1="144.30" y1="404.50" x2="156.80" y2="404.50" stroke-width="4" stroke-linecap="butt"/>
<line x1="149.30" y1="380.72" x2="156.80" y2="380.72" stroke-width="3.2" stroke-linecap="butt"/>
<line x1="149.30" y1="356.94" x2="156.80" y2="356.94" stroke-width="3.2" stroke-linecap="butt"/>
<line x1="149.30" y1="333.16" x2="156.80" y2="333.16" stroke-width="3.2" stroke-linecap="butt"/>
<line x1="149.30" y1="309.38" x2="156.80" y2="309.38" stroke-width="3.2" stroke-linecap="butt"/>
<line x1="144.30" y1="285.60" x2="156.80" y2="285.60" stroke-width="4" stroke-linecap="butt"/>
<line x1="149.30" y1="261.82" x2="156.80" y2="261.82" stroke-width="3.2" stroke-linecap="butt"/>
<line x1="149.30" y1="238.04" x2="156.80" y2="238.04" stroke-width="3.2" stroke-linecap="butt"/>
<line x1="149.30" y1="214.26" x2="156.80" y2="214.26" stroke-width="3.2" stroke-linecap="butt"/>
<line x1="149.30" y1="190.48" x2="156.80" y2="190.48" stroke-width="3.2" stroke-linecap="butt"/>
<line x1="144.30" y1="166.70" x2="156.80" y2="166.70" stroke-width="4" stroke-linecap="butt"/>
<line x1="149.30" y1="142.92" x2="156.80" y2="142.92" stroke-width="3.2" stroke-linecap="butt"/>
<line x1="149.30" y1="119.14" x2="156.80" y2="119.14" stroke-width="3.2" stroke-linecap="butt"/>
<line x1="149.30" y1="95.36" x2="156.80" y2="95.36" stroke-width="3.2" stroke-linecap="butt"/>
<line x1="149.30" y1="71.58" x2="156.80" y2="71.58" stroke-width="3.2" stroke-linecap="butt"/>
<line x1="144.30" y1="47.80" x2="156.80" y2="47.80" stroke-width="4" stroke-linecap="butt"/>
<line x1="423.70" y1="404.50" x2="423.70" y2="415.50" stroke-width="3.5" stroke-linecap="butt"/>
<rect x="186.25" y="219.65" width="117.50" height="184.85" fill="url(#pOA)" stroke-width="4.5"/>
<rect x="364.65" y="199.85" width="119.20" height="204.65" fill="url(#pKBD)" stroke-width="4.5"/>
<rect x="542.55" y="251.95" width="119.20" height="152.55" fill="url(#pCT)" stroke-width="4.5"/>
<line x1="245.60" y1="219.00" x2="245.60" y2="183.20" stroke-width="4.5" stroke-linecap="butt"/>
<line x1="216.00" y1="183.20" x2="275.50" y2="183.20" stroke-width="4.5" stroke-linecap="round"/>
<line x1="424.00" y1="199.00" x2="424.00" y2="133.50" stroke-width="4.5" stroke-linecap="butt"/>
<line x1="393.70" y1="133.50" x2="453.80" y2="133.50" stroke-width="4.5" stroke-linecap="round"/>
<line x1="602.20" y1="251.00" x2="602.20" y2="191.30" stroke-width="4.5" stroke-linecap="butt"/>
<line x1="571.50" y1="191.30" x2="633.00" y2="191.30" stroke-width="4.5" stroke-linecap="round"/>
<line x1="252.80" y1="63.00" x2="607.20" y2="63.00" stroke-width="4.5" stroke-linecap="butt"/>
<line x1="252.80" y1="52.00" x2="252.80" y2="73.50" stroke-width="5" stroke-linecap="round"/>
<line x1="607.20" y1="52.00" x2="607.20" y2="73.50" stroke-width="5" stroke-linecap="round"/>
<line x1="235.60" y1="116.30" x2="404.40" y2="116.30" stroke-width="4.5" stroke-linecap="butt"/>
<line x1="235.60" y1="106.00" x2="235.60" y2="126.40" stroke-width="5" stroke-linecap="round"/>
<line x1="404.40" y1="106.00" x2="404.40" y2="126.40" stroke-width="5" stroke-linecap="round"/>
<line x1="426.30" y1="116.30" x2="603.40" y2="116.30" stroke-width="4.5" stroke-linecap="butt"/>
<line x1="426.30" y1="106.00" x2="426.30" y2="126.40" stroke-width="5" stroke-linecap="round"/>
<line x1="603.40" y1="106.00" x2="603.40" y2="126.40" stroke-width="5" stroke-linecap="round"/>
<rect x="631.00" y="35.40" width="44.70" height="24.80" rx="1.5" fill="#1c1c1c" stroke="none"/>
<rect x="636.00" y="40.40" width="34.70" height="14.80" fill="url(#lgOA)" stroke="none"/>
<rect x="631.00" y="75.80" width="44.70" height="24.80" rx="1.5" fill="#1c1c1c" stroke="none"/>
<rect x="636.00" y="80.80" width="34.70" height="14.80" fill="url(#lgKBD)" stroke="none"/>
<rect x="631.00" y="117.50" width="44.70" height="24.50" rx="1.5" fill="#1c1c1c" stroke="none"/>
<rect x="636.00" y="122.50" width="34.70" height="14.50" fill="url(#lgCT)" stroke="none"/>
<line x1="1021.80" y1="48.20" x2="1021.80" y2="414.75" stroke-width="4" stroke-linecap="butt"/>
<line x1="1010.60" y1="412.50" x2="1568.90" y2="412.50" stroke-width="4" stroke-linecap="butt"/>
<line x1="1009.30" y1="412.50" x2="1021.80" y2="412.50" stroke-width="4" stroke-linecap="butt"/>
<line x1="1014.30" y1="388.28" x2="1021.80" y2="388.28" stroke-width="3.2" stroke-linecap="butt"/>
<line x1="1014.30" y1="364.06" x2="1021.80" y2="364.06" stroke-width="3.2" stroke-linecap="butt"/>
<line x1="1014.30" y1="339.84" x2="1021.80" y2="339.84" stroke-width="3.2" stroke-linecap="butt"/>
<line x1="1014.30" y1="315.62" x2="1021.80" y2="315.62" stroke-width="3.2" stroke-linecap="butt"/>
<line x1="1009.30" y1="291.40" x2="1021.80" y2="291.40" stroke-width="4" stroke-linecap="butt"/>
<line x1="1014.30" y1="267.18" x2="1021.80" y2="267.18" stroke-width="3.2" stroke-linecap="butt"/>
<line x1="1014.30" y1="242.96" x2="1021.80" y2="242.96" stroke-width="3.2" stroke-linecap="butt"/>
<line x1="1014.30" y1="218.74" x2="1021.80" y2="218.74" stroke-width="3.2" stroke-linecap="butt"/>
<line x1="1014.30" y1="194.52" x2="1021.80" y2="194.52" stroke-width="3.2" stroke-linecap="butt"/>
<line x1="1009.30" y1="170.30" x2="1021.80" y2="170.30" stroke-width="4" stroke-linecap="butt"/>
<line x1="1014.30" y1="146.08" x2="1021.80" y2="146.08" stroke-width="3.2" stroke-linecap="butt"/>
<line x1="1014.30" y1="121.86" x2="1021.80" y2="121.86" stroke-width="3.2" stroke-linecap="butt"/>
<line x1="1014.30" y1="97.64" x2="1021.80" y2="97.64" stroke-width="3.2" stroke-linecap="butt"/>
<line x1="1014.30" y1="73.42" x2="1021.80" y2="73.42" stroke-width="3.2" stroke-linecap="butt"/>
<line x1="1009.30" y1="49.20" x2="1021.80" y2="49.20" stroke-width="4" stroke-linecap="butt"/>
<line x1="1294.70" y1="412.50" x2="1294.70" y2="423.50" stroke-width="3.5" stroke-linecap="butt"/>
<rect x="1053.95" y="241.35" width="120.00" height="171.15" fill="url(#pOA)" stroke-width="4.5"/>
<rect x="1234.75" y="187.75" width="120.70" height="224.75" fill="url(#pKBD)" stroke-width="4.5"/>
<rect x="1417.15" y="211.95" width="118.60" height="200.55" fill="url(#pCT)" stroke-width="4.5"/>
<line x1="1112.70" y1="241.00" x2="1112.70" y2="176.20" stroke-width="4.5" stroke-linecap="butt"/>
<line x1="1083.00" y1="176.20" x2="1144.50" y2="176.20" stroke-width="4.5" stroke-linecap="round"/>
<line x1="1295.10" y1="187.00" x2="1295.10" y2="114.80" stroke-width="4.5" stroke-linecap="butt"/>
<line x1="1264.30" y1="114.80" x2="1325.70" y2="114.80" stroke-width="4.5" stroke-linecap="round"/>
<line x1="1477.20" y1="211.00" x2="1477.20" y2="166.80" stroke-width="4.5" stroke-linecap="butt"/>
<line x1="1445.90" y1="166.80" x2="1507.30" y2="166.80" stroke-width="4.5" stroke-linecap="round"/>
<line x1="1113.20" y1="53.40" x2="1487.70" y2="53.40" stroke-width="4.5" stroke-linecap="butt"/>
<line x1="1113.20" y1="43.00" x2="1113.20" y2="63.60" stroke-width="5" stroke-linecap="round"/>
<line x1="1487.70" y1="43.00" x2="1487.70" y2="63.60" stroke-width="5" stroke-linecap="round"/>
<line x1="1100.30" y1="100.80" x2="1282.70" y2="100.80" stroke-width="4.5" stroke-linecap="butt"/>
<line x1="1100.30" y1="90.00" x2="1100.30" y2="110.50" stroke-width="5" stroke-linecap="round"/>
<line x1="1282.70" y1="90.00" x2="1282.70" y2="110.50" stroke-width="5" stroke-linecap="round"/>
<line x1="1321.40" y1="100.80" x2="1473.70" y2="100.80" stroke-width="4.5" stroke-linecap="butt"/>
<line x1="1321.40" y1="90.00" x2="1321.40" y2="110.50" stroke-width="5" stroke-linecap="round"/>
<line x1="1473.70" y1="90.00" x2="1473.70" y2="110.50" stroke-width="5" stroke-linecap="round"/>
<rect x="1515.40" y="35.40" width="43.80" height="24.80" rx="1.5" fill="#1c1c1c" stroke="none"/>
<rect x="1520.40" y="40.40" width="33.80" height="14.80" fill="url(#lgOA)" stroke="none"/>
<rect x="1515.40" y="75.80" width="43.80" height="24.80" rx="1.5" fill="#1c1c1c" stroke="none"/>
<rect x="1520.40" y="80.80" width="33.80" height="14.80" fill="url(#lgKBD)" stroke="none"/>
<rect x="1515.40" y="117.50" width="43.80" height="24.50" rx="1.5" fill="#1c1c1c" stroke="none"/>
<rect x="1520.40" y="122.50" width="33.80" height="14.50" fill="url(#lgCT)" stroke="none"/>
<line x1="1931.10" y1="47.70" x2="1931.10" y2="414.25" stroke-width="4" stroke-linecap="butt"/>
<line x1="1920.30" y1="412.00" x2="2477.20" y2="412.00" stroke-width="4" stroke-linecap="butt"/>
<line x1="1918.60" y1="412.00" x2="1931.10" y2="412.00" stroke-width="4" stroke-linecap="butt"/>
<line x1="1923.60" y1="387.78" x2="1931.10" y2="387.78" stroke-width="3.2" stroke-linecap="butt"/>
<line x1="1923.60" y1="363.56" x2="1931.10" y2="363.56" stroke-width="3.2" stroke-linecap="butt"/>
<line x1="1923.60" y1="339.34" x2="1931.10" y2="339.34" stroke-width="3.2" stroke-linecap="butt"/>
<line x1="1923.60" y1="315.12" x2="1931.10" y2="315.12" stroke-width="3.2" stroke-linecap="butt"/>
<line x1="1918.60" y1="290.90" x2="1931.10" y2="290.90" stroke-width="4" stroke-linecap="butt"/>
<line x1="1923.60" y1="266.68" x2="1931.10" y2="266.68" stroke-width="3.2" stroke-linecap="butt"/>
<line x1="1923.60" y1="242.46" x2="1931.10" y2="242.46" stroke-width="3.2" stroke-linecap="butt"/>
<line x1="1923.60" y1="218.24" x2="1931.10" y2="218.24" stroke-width="3.2" stroke-linecap="butt"/>
<line x1="1923.60" y1="194.02" x2="1931.10" y2="194.02" stroke-width="3.2" stroke-linecap="butt"/>
<line x1="1918.60" y1="169.80" x2="1931.10" y2="169.80" stroke-width="4" stroke-linecap="butt"/>
<line x1="1923.60" y1="145.58" x2="1931.10" y2="145.58" stroke-width="3.2" stroke-linecap="butt"/>
<line x1="1923.60" y1="121.36" x2="1931.10" y2="121.36" stroke-width="3.2" stroke-linecap="butt"/>
<line x1="1923.60" y1="97.14" x2="1931.10" y2="97.14" stroke-width="3.2" stroke-linecap="butt"/>
<line x1="1923.60" y1="72.92" x2="1931.10" y2="72.92" stroke-width="3.2" stroke-linecap="butt"/>
<line x1="1918.60" y1="48.70" x2="1931.10" y2="48.70" stroke-width="4" stroke-linecap="butt"/>
<line x1="2202.80" y1="412.00" x2="2202.80" y2="423.00" stroke-width="3.5" stroke-linecap="butt"/>
<rect x="1962.45" y="192.05" width="118.50" height="219.95" fill="url(#pOA)" stroke-width="4.5"/>
<rect x="2144.05" y="183.45" width="119.20" height="228.55" fill="url(#pKBD)" stroke-width="4.5"/>
<rect x="2325.25" y="199.05" width="118.50" height="212.95" fill="url(#pCT)" stroke-width="4.5"/>
<line x1="2022.50" y1="191.00" x2="2022.50" y2="154.70" stroke-width="4.5" stroke-linecap="butt"/>
<line x1="1991.20" y1="154.70" x2="2052.70" y2="154.70" stroke-width="4.5" stroke-linecap="round"/>
<line x1="2202.90" y1="183.00" x2="2202.90" y2="72.40" stroke-width="4.5" stroke-linecap="butt"/>
<line x1="2172.10" y1="72.40" x2="2234.70" y2="72.40" stroke-width="4.5" stroke-linecap="round"/>
<line x1="2385.00" y1="198.00" x2="2385.00" y2="160.50" stroke-width="4.5" stroke-linecap="butt"/>
<line x1="2353.70" y1="160.50" x2="2415.10" y2="160.50" stroke-width="4.5" stroke-linecap="round"/>
<rect x="2307.60" y="35.40" width="44.10" height="24.80" rx="1.5" fill="#1c1c1c" stroke="none"/>
<rect x="2312.60" y="40.40" width="34.10" height="14.80" fill="url(#lgOA)" stroke="none"/>
<rect x="2307.60" y="75.80" width="44.10" height="24.80" rx="1.5" fill="#1c1c1c" stroke="none"/>
<rect x="2312.60" y="80.80" width="34.10" height="14.80" fill="url(#lgKBD)" stroke="none"/>
<rect x="2307.60" y="117.50" width="44.10" height="24.50" rx="1.5" fill="#1c1c1c" stroke="none"/>
<rect x="2312.60" y="122.50" width="34.10" height="14.50" fill="url(#lgCT)" stroke="none"/>
<line x1="159.30" y1="582.40" x2="159.30" y2="951.65" stroke-width="4" stroke-linecap="butt"/>
<line x1="144.00" y1="949.40" x2="708.80" y2="949.40" stroke-width="4" stroke-linecap="butt"/>
<line x1="146.80" y1="949.40" x2="159.30" y2="949.40" stroke-width="4" stroke-linecap="butt"/>
<line x1="151.80" y1="934.76" x2="159.30" y2="934.76" stroke-width="3.2" stroke-linecap="butt"/>
<line x1="151.80" y1="920.12" x2="159.30" y2="920.12" stroke-width="3.2" stroke-linecap="butt"/>
<line x1="151.80" y1="905.48" x2="159.30" y2="905.48" stroke-width="3.2" stroke-linecap="butt"/>
<line x1="151.80" y1="890.84" x2="159.30" y2="890.84" stroke-width="3.2" stroke-linecap="butt"/>
<line x1="146.80" y1="876.20" x2="159.30" y2="876.20" stroke-width="4" stroke-linecap="butt"/>
<line x1="151.80" y1="861.56" x2="159.30" y2="861.56" stroke-width="3.2" stroke-linecap="butt"/>
<line x1="151.80" y1="846.92" x2="159.30" y2="846.92" stroke-width="3.2" stroke-linecap="butt"/>
<line x1="151.80" y1="832.28" x2="159.30" y2="832.28" stroke-width="3.2" stroke-linecap="butt"/>
<line x1="151.80" y1="817.64" x2="159.30" y2="817.64" stroke-width="3.2" stroke-linecap="butt"/>
<line x1="146.80" y1="803.00" x2="159.30" y2="803.00" stroke-width="4" stroke-linecap="butt"/>
<line x1="151.80" y1="788.36" x2="159.30" y2="788.36" stroke-width="3.2" stroke-linecap="butt"/>
<line x1="151.80" y1="773.72" x2="159.30" y2="773.72" stroke-width="3.2" stroke-linecap="butt"/>
<line x1="151.80" y1="759.08" x2="159.30" y2="759.08" stroke-width="3.2" stroke-linecap="butt"/>
<line x1="151.80" y1="744.44" x2="159.30" y2="744.44" stroke-width="3.2" stroke-linecap="butt"/>
<line x1="146.80" y1="729.80" x2="159.30" y2="729.80" stroke-width="4" stroke-linecap="butt"/>
<line x1="151.80" y1="715.16" x2="159.30" y2="715.16" stroke-width="3.2" stroke-linecap="butt"/>
<line x1="151.80" y1="700.52" x2="159.30" y2="700.52" stroke-width="3.2" stroke-linecap="butt"/>
<line x1="151.80" y1="685.88" x2="159.30" y2="685.88" stroke-width="3.2" stroke-linecap="butt"/>
<line x1="151.80" y1="671.24" x2="159.30" y2="671.24" stroke-width="3.2" stroke-linecap="butt"/>
<line x1="146.80" y1="656.60" x2="159.30" y2="656.60" stroke-width="4" stroke-linecap="butt"/>
<line x1="151.80" y1="641.96" x2="159.30" y2="641.96" stroke-width="3.2" stroke-linecap="butt"/>
<line x1="151.80" y1="627.32" x2="159.30" y2="627.32" stroke-width="3.2" stroke-linecap="butt"/>
<line x1="151.80" y1="612.68" x2="159.30" y2="612.68" stroke-width="3.2" stroke-linecap="butt"/>
<line x1="151.80" y1="598.04" x2="159.30" y2="598.04" stroke-width="3.2" stroke-linecap="butt"/>
<line x1="146.80" y1="583.40" x2="159.30" y2="583.40" stroke-width="4" stroke-linecap="butt"/>
<line x1="252.00" y1="949.40" x2="252.00" y2="960.40" stroke-width="3.5" stroke-linecap="butt"/>
<line x1="434.00" y1="949.40" x2="434.00" y2="960.40" stroke-width="3.5" stroke-linecap="butt"/>
<line x1="616.00" y1="949.40" x2="616.00" y2="960.40" stroke-width="3.5" stroke-linecap="butt"/>
<rect x="190.50" y="873.70" width="121.50" height="27.80" fill="none" stroke-width="4.5"/>
<line x1="190.50" y1="884.20" x2="312.00" y2="884.20" stroke-width="4.5" stroke-linecap="butt"/>
<line x1="252.00" y1="873.70" x2="252.00" y2="864.00" stroke-width="4.5" stroke-linecap="butt"/>
<line x1="252.00" y1="901.50" x2="252.00" y2="909.00" stroke-width="4.5" stroke-linecap="butt"/>
<line x1="220.50" y1="864.00" x2="282.70" y2="864.00" stroke-width="4.5" stroke-linecap="round"/>
<line x1="220.50" y1="909.00" x2="282.70" y2="909.00" stroke-width="4.5" stroke-linecap="round"/>
<rect x="373.50" y="791.50" width="120.70" height="145.00" fill="none" stroke-width="4.5"/>
<line x1="373.50" y1="926.90" x2="494.20" y2="926.90" stroke-width="4.5" stroke-linecap="butt"/>
<line x1="434.00" y1="791.50" x2="434.00" y2="660.20" stroke-width="4.5" stroke-linecap="butt"/>
<line x1="434.00" y1="936.50" x2="434.00" y2="940.00" stroke-width="4.5" stroke-linecap="butt"/>
<line x1="403.50" y1="660.20" x2="464.70" y2="660.20" stroke-width="4.5" stroke-linecap="round"/>
<line x1="403.10" y1="940.00" x2="466.50" y2="940.00" stroke-width="4.5" stroke-linecap="round"/>
<rect x="555.20" y="920.10" width="121.80" height="22.60" fill="none" stroke-width="4.5"/>
<line x1="555.20" y1="932.00" x2="677.00" y2="932.00" stroke-width="4.5" stroke-linecap="butt"/>
<line x1="616.00" y1="920.10" x2="616.00" y2="915.00" stroke-width="4.5" stroke-linecap="butt"/>
<line x1="616.00" y1="942.70" x2="616.00" y2="946.20" stroke-width="4.5" stroke-linecap="butt"/>
<line x1="586.40" y1="915.00" x2="647.50" y2="915.00" stroke-width="8" stroke-linecap="round"/>
<line x1="586.40" y1="946.20" x2="647.50" y2="946.20" stroke-width="4.5" stroke-linecap="round"/>
<line x1="243.80" y1="576.40" x2="618.60" y2="576.40" stroke-width="4.5" stroke-linecap="butt"/>
<line x1="243.80" y1="567.50" x2="243.80" y2="587.30" stroke-width="5" stroke-linecap="round"/>
<line x1="618.60" y1="567.50" x2="618.60" y2="587.30" stroke-width="5" stroke-linecap="round"/>
<line x1="261.30" y1="636.00" x2="417.50" y2="636.00" stroke-width="4.5" stroke-linecap="butt"/>
<line x1="261.30" y1="626.00" x2="261.30" y2="646.00" stroke-width="5" stroke-linecap="round"/>
<line x1="417.50" y1="626.00" x2="417.50" y2="646.00" stroke-width="5" stroke-linecap="round"/>
<line x1="454.20" y1="633.40" x2="604.10" y2="633.40" stroke-width="4.5" stroke-linecap="butt"/>
<line x1="454.20" y1="624.00" x2="454.20" y2="645.00" stroke-width="5" stroke-linecap="round"/>
<line x1="604.10" y1="624.00" x2="604.10" y2="645.00" stroke-width="5" stroke-linecap="round"/>
<line x1="1026.80" y1="582.30" x2="1026.80" y2="951.65" stroke-width="4" stroke-linecap="butt"/>
<line x1="1015.20" y1="949.40" x2="1576.00" y2="949.40" stroke-width="4" stroke-linecap="butt"/>
<line x1="1014.30" y1="949.40" x2="1026.80" y2="949.40" stroke-width="4" stroke-linecap="butt"/>
<line x1="1019.30" y1="924.99" x2="1026.80" y2="924.99" stroke-width="3.2" stroke-linecap="butt"/>
<line x1="1019.30" y1="900.59" x2="1026.80" y2="900.59" stroke-width="3.2" stroke-linecap="butt"/>
<line x1="1019.30" y1="876.18" x2="1026.80" y2="876.18" stroke-width="3.2" stroke-linecap="butt"/>
<line x1="1019.30" y1="851.77" x2="1026.80" y2="851.77" stroke-width="3.2" stroke-linecap="butt"/>
<line x1="1014.30" y1="827.37" x2="1026.80" y2="827.37" stroke-width="4" stroke-linecap="butt"/>
<line x1="1019.30" y1="802.96" x2="1026.80" y2="802.96" stroke-width="3.2" stroke-linecap="butt"/>
<line x1="1019.30" y1="778.55" x2="1026.80" y2="778.55" stroke-width="3.2" stroke-linecap="butt"/>
<line x1="1019.30" y1="754.15" x2="1026.80" y2="754.15" stroke-width="3.2" stroke-linecap="butt"/>
<line x1="1019.30" y1="729.74" x2="1026.80" y2="729.74" stroke-width="3.2" stroke-linecap="butt"/>
<line x1="1014.30" y1="705.33" x2="1026.80" y2="705.33" stroke-width="4" stroke-linecap="butt"/>
<line x1="1019.30" y1="680.93" x2="1026.80" y2="680.93" stroke-width="3.2" stroke-linecap="butt"/>
<line x1="1019.30" y1="656.52" x2="1026.80" y2="656.52" stroke-width="3.2" stroke-linecap="butt"/>
<line x1="1019.30" y1="632.11" x2="1026.80" y2="632.11" stroke-width="3.2" stroke-linecap="butt"/>
<line x1="1019.30" y1="607.71" x2="1026.80" y2="607.71" stroke-width="3.2" stroke-linecap="butt"/>
<line x1="1014.30" y1="583.30" x2="1026.80" y2="583.30" stroke-width="4" stroke-linecap="butt"/>
<line x1="1118.40" y1="949.40" x2="1118.40" y2="960.40" stroke-width="3.5" stroke-linecap="butt"/>
<line x1="1300.80" y1="949.40" x2="1300.80" y2="960.40" stroke-width="3.5" stroke-linecap="butt"/>
<line x1="1483.10" y1="949.40" x2="1483.10" y2="960.40" stroke-width="3.5" stroke-linecap="butt"/>
<rect x="1057.60" y="883.00" width="122.80" height="36.50" fill="none" stroke-width="4.5"/>
<line x1="1057.60" y1="903.60" x2="1180.40" y2="903.60" stroke-width="4.5" stroke-linecap="butt"/>
<line x1="1118.40" y1="883.00" x2="1118.40" y2="865.80" stroke-width="4.5" stroke-linecap="butt"/>
<line x1="1118.40" y1="919.50" x2="1118.40" y2="932.20" stroke-width="4.5" stroke-linecap="butt"/>
<line x1="1087.30" y1="865.80" x2="1149.60" y2="865.80" stroke-width="4.5" stroke-linecap="round"/>
<line x1="1087.30" y1="932.20" x2="1149.60" y2="932.20" stroke-width="4.5" stroke-linecap="round"/>
<rect x="1239.90" y="718.90" width="122.80" height="175.50" fill="none" stroke-width="4.5"/>
<line x1="1239.90" y1="841.70" x2="1362.70" y2="841.70" stroke-width="4.5" stroke-linecap="butt"/>
<line x1="1301.00" y1="718.90" x2="1301.00" y2="658.30" stroke-width="4.5" stroke-linecap="butt"/>
<line x1="1301.00" y1="894.40" x2="1301.00" y2="923.60" stroke-width="4.5" stroke-linecap="butt"/>
<line x1="1270.90" y1="658.30" x2="1331.30" y2="658.30" stroke-width="4.5" stroke-linecap="round"/>
<line x1="1270.90" y1="923.60" x2="1331.30" y2="923.60" stroke-width="4.5" stroke-linecap="round"/>
<rect x="1422.90" y="774.00" width="122.10" height="134.80" fill="none" stroke-width="4.5"/>
<line x1="1422.90" y1="887.50" x2="1545.00" y2="887.50" stroke-width="4.5" stroke-linecap="butt"/>
<line x1="1483.20" y1="774.00" x2="1483.20" y2="735.60" stroke-width="4.5" stroke-linecap="butt"/>
<line x1="1483.20" y1="908.80" x2="1483.20" y2="913.50" stroke-width="4.5" stroke-linecap="butt"/>
<line x1="1453.60" y1="735.60" x2="1516.00" y2="735.60" stroke-width="4.5" stroke-linecap="round"/>
<line x1="1453.60" y1="913.50" x2="1516.00" y2="913.50" stroke-width="7" stroke-linecap="round"/>
<line x1="1123.60" y1="578.00" x2="1491.10" y2="578.00" stroke-width="4.5" stroke-linecap="butt"/>
<line x1="1123.60" y1="569.00" x2="1123.60" y2="589.40" stroke-width="5" stroke-linecap="round"/>
<line x1="1491.10" y1="569.00" x2="1491.10" y2="589.40" stroke-width="5" stroke-linecap="round"/>
<line x1="1137.00" y1="648.60" x2="1278.40" y2="648.60" stroke-width="4.5" stroke-linecap="butt"/>
<line x1="1137.00" y1="638.40" x2="1137.00" y2="658.80" stroke-width="5" stroke-linecap="round"/>
<line x1="1278.40" y1="638.40" x2="1278.40" y2="658.80" stroke-width="5" stroke-linecap="round"/>
<line x1="1319.40" y1="645.00" x2="1476.50" y2="645.00" stroke-width="4.5" stroke-linecap="butt"/>
<line x1="1319.40" y1="634.80" x2="1319.40" y2="653.90" stroke-width="5" stroke-linecap="round"/>
<line x1="1476.50" y1="634.80" x2="1476.50" y2="653.90" stroke-width="5" stroke-linecap="round"/>
<line x1="1931.50" y1="582.60" x2="1931.50" y2="951.55" stroke-width="4" stroke-linecap="butt"/>
<line x1="1919.30" y1="949.30" x2="2479.80" y2="949.30" stroke-width="4" stroke-linecap="butt"/>
<line x1="1919.00" y1="949.30" x2="1931.50" y2="949.30" stroke-width="4" stroke-linecap="butt"/>
<line x1="1924.00" y1="931.01" x2="1931.50" y2="931.01" stroke-width="3.2" stroke-linecap="butt"/>
<line x1="1924.00" y1="912.73" x2="1931.50" y2="912.73" stroke-width="3.2" stroke-linecap="butt"/>
<line x1="1924.00" y1="894.44" x2="1931.50" y2="894.44" stroke-width="3.2" stroke-linecap="butt"/>
<line x1="1924.00" y1="876.16" x2="1931.50" y2="876.16" stroke-width="3.2" stroke-linecap="butt"/>
<line x1="1919.00" y1="857.88" x2="1931.50" y2="857.88" stroke-width="4" stroke-linecap="butt"/>
<line x1="1924.00" y1="839.59" x2="1931.50" y2="839.59" stroke-width="3.2" stroke-linecap="butt"/>
<line x1="1924.00" y1="821.30" x2="1931.50" y2="821.30" stroke-width="3.2" stroke-linecap="butt"/>
<line x1="1924.00" y1="803.02" x2="1931.50" y2="803.02" stroke-width="3.2" stroke-linecap="butt"/>
<line x1="1924.00" y1="784.74" x2="1931.50" y2="784.74" stroke-width="3.2" stroke-linecap="butt"/>
<line x1="1919.00" y1="766.45" x2="1931.50" y2="766.45" stroke-width="4" stroke-linecap="butt"/>
<line x1="1924.00" y1="748.16" x2="1931.50" y2="748.16" stroke-width="3.2" stroke-linecap="butt"/>
<line x1="1924.00" y1="729.88" x2="1931.50" y2="729.88" stroke-width="3.2" stroke-linecap="butt"/>
<line x1="1924.00" y1="711.60" x2="1931.50" y2="711.60" stroke-width="3.2" stroke-linecap="butt"/>
<line x1="1924.00" y1="693.31" x2="1931.50" y2="693.31" stroke-width="3.2" stroke-linecap="butt"/>
<line x1="1919.00" y1="675.03" x2="1931.50" y2="675.03" stroke-width="4" stroke-linecap="butt"/>
<line x1="1924.00" y1="656.74" x2="1931.50" y2="656.74" stroke-width="3.2" stroke-linecap="butt"/>
<line x1="1924.00" y1="638.46" x2="1931.50" y2="638.46" stroke-width="3.2" stroke-linecap="butt"/>
<line x1="1924.00" y1="620.17" x2="1931.50" y2="620.17" stroke-width="3.2" stroke-linecap="butt"/>
<line x1="1924.00" y1="601.88" x2="1931.50" y2="601.88" stroke-width="3.2" stroke-linecap="butt"/>
<line x1="1919.00" y1="583.60" x2="1931.50" y2="583.60" stroke-width="4" stroke-linecap="butt"/>
<line x1="2023.10" y1="949.30" x2="2023.10" y2="960.30" stroke-width="3.5" stroke-linecap="butt"/>
<line x1="2205.40" y1="949.30" x2="2205.40" y2="960.30" stroke-width="3.5" stroke-linecap="butt"/>
<line x1="2388.00" y1="949.30" x2="2388.00" y2="960.30" stroke-width="3.5" stroke-linecap="butt"/>
<rect x="1961.20" y="742.20" width="122.10" height="121.10" fill="none" stroke-width="4.5"/>
<line x1="1961.20" y1="829.00" x2="2083.30" y2="829.00" stroke-width="4.5" stroke-linecap="butt"/>
<line x1="2023.00" y1="742.20" x2="2023.00" y2="662.00" stroke-width="4.5" stroke-linecap="butt"/>
<line x1="2023.00" y1="863.30" x2="2023.00" y2="889.10" stroke-width="4.5" stroke-linecap="butt"/>
<line x1="1992.90" y1="662.00" x2="2053.30" y2="662.00" stroke-width="4.5" stroke-linecap="round"/>
<line x1="1992.90" y1="889.10" x2="2053.30" y2="889.10" stroke-width="4.5" stroke-linecap="round"/>
<rect x="2144.50" y="834.80" width="122.10" height="84.20" fill="none" stroke-width="4.5"/>
<line x1="2144.50" y1="884.00" x2="2266.60" y2="884.00" stroke-width="4.5" stroke-linecap="butt"/>
<line x1="2205.40" y1="834.80" x2="2205.40" y2="804.20" stroke-width="4.5" stroke-linecap="butt"/>
<line x1="2205.40" y1="919.00" x2="2205.40" y2="942.40" stroke-width="4.5" stroke-linecap="butt"/>
<line x1="2175.20" y1="804.20" x2="2235.90" y2="804.20" stroke-width="4.5" stroke-linecap="round"/>
<line x1="2175.20" y1="942.40" x2="2235.90" y2="942.40" stroke-width="4.5" stroke-linecap="round"/>
<rect x="2327.50" y="840.00" width="121.30" height="93.80" fill="none" stroke-width="4.5"/>
<line x1="2327.50" y1="902.20" x2="2448.80" y2="902.20" stroke-width="4.5" stroke-linecap="butt"/>
<line x1="2388.00" y1="840.00" x2="2388.00" y2="795.60" stroke-width="4.5" stroke-linecap="butt"/>
<line x1="2388.00" y1="933.80" x2="2388.00" y2="938.30" stroke-width="4.5" stroke-linecap="butt"/>
<line x1="2359.20" y1="795.60" x2="2418.10" y2="795.60" stroke-width="4.5" stroke-linecap="round"/>
<line x1="2359.20" y1="938.30" x2="2418.10" y2="938.30" stroke-width="7" stroke-linecap="round"/>
<line x1="2009.00" y1="584.00" x2="2391.80" y2="584.00" stroke-width="4.5" stroke-linecap="butt"/>
<line x1="2009.00" y1="574.00" x2="2009.00" y2="595.00" stroke-width="5" stroke-linecap="round"/>
<line x1="2391.80" y1="574.00" x2="2391.80" y2="595.00" stroke-width="5" stroke-linecap="round"/>
<line x1="2020.70" y1="640.00" x2="2172.10" y2="640.00" stroke-width="4.5" stroke-linecap="butt"/>
<line x1="2020.70" y1="630.00" x2="2020.70" y2="649.00" stroke-width="5" stroke-linecap="round"/>
<line x1="2172.10" y1="630.00" x2="2172.10" y2="649.00" stroke-width="5" stroke-linecap="round"/>
<line x1="2204.70" y1="717.30" x2="2380.90" y2="717.30" stroke-width="4.5" stroke-linecap="butt"/>
<line x1="2204.70" y1="706.60" x2="2204.70" y2="728.20" stroke-width="5" stroke-linecap="round"/>
<line x1="2380.90" y1="706.60" x2="2380.90" y2="728.20" stroke-width="5" stroke-linecap="round"/>
</g>
<g stroke="#1c1c1c" stroke-width="0.3">
<text x="116.80" y="418.25" textLength="22.25" lengthAdjust="spacingAndGlyphs">0</text>
<text x="94.80" y="302.30" textLength="44.50" lengthAdjust="spacingAndGlyphs">50</text>
<text x="72.80" y="184.90" textLength="66.75" lengthAdjust="spacingAndGlyphs">100</text>
<text x="72.80" y="68.00" textLength="66.75" lengthAdjust="spacingAndGlyphs">150</text>
<text x="337.86" y="37.50" textLength="141.00" lengthAdjust="spacingAndGlyphs"><tspan font-style="italic">P</tspan> &lt; 0.05</text>
<text x="258.05" y="103.00" textLength="142.72" lengthAdjust="spacingAndGlyphs"><tspan font-style="italic">P</tspan> &lt; 0.05</text>
<text x="443.06" y="103.00" textLength="140.79" lengthAdjust="spacingAndGlyphs"><tspan font-style="italic">P</tspan> &lt; 0.05</text>
<text x="692.21" y="59.40" textLength="54.54" lengthAdjust="spacingAndGlyphs">OA</text>
<text x="693.34" y="100.20" textLength="73.06" lengthAdjust="spacingAndGlyphs">KBD</text>
<text x="692.01" y="141.40" textLength="134.57" lengthAdjust="spacingAndGlyphs">Control</text>
<text x="382.65" y="462.50" textLength="90.76" lengthAdjust="spacingAndGlyphs">IL-1β</text>
<text transform="translate(53.25,290.50) rotate(-90)" x="-3.15" y="0" textLength="116.89" lengthAdjust="spacingAndGlyphs">pg/mL</text>
<text x="981.60" y="429.40" textLength="22.25" lengthAdjust="spacingAndGlyphs">0</text>
<text x="937.60" y="307.90" textLength="66.75" lengthAdjust="spacingAndGlyphs">100</text>
<text x="937.60" y="185.60" textLength="66.75" lengthAdjust="spacingAndGlyphs">200</text>
<text x="937.60" y="63.80" textLength="66.75" lengthAdjust="spacingAndGlyphs">300</text>
<text x="1239.96" y="35.00" textLength="141.10" lengthAdjust="spacingAndGlyphs"><tspan font-style="italic">P</tspan> &lt; 0.05</text>
<text x="1136.86" y="88.00" textLength="141.10" lengthAdjust="spacingAndGlyphs"><tspan font-style="italic">P</tspan> &lt; 0.05</text>
<text x="1336.86" y="88.60" textLength="141.40" lengthAdjust="spacingAndGlyphs"><tspan font-style="italic">P</tspan> &lt; 0.05</text>
<text x="1576.11" y="59.40" textLength="54.54" lengthAdjust="spacingAndGlyphs">OA</text>
<text x="1577.24" y="100.20" textLength="73.06" lengthAdjust="spacingAndGlyphs">KBD</text>
<text x="1575.91" y="141.40" textLength="134.57" lengthAdjust="spacingAndGlyphs">Control</text>
<text x="1270.19" y="462.00" textLength="52.05" lengthAdjust="spacingAndGlyphs">HA</text>
<text transform="translate(917.30,290.80) rotate(-90)" x="-3.17" y="0" textLength="117.61" lengthAdjust="spacingAndGlyphs">ng/mL</text>
<text x="1890.00" y="429.40" textLength="22.25" lengthAdjust="spacingAndGlyphs">0</text>
<text x="1846.00" y="307.90" textLength="66.75" lengthAdjust="spacingAndGlyphs">200</text>
<text x="1846.00" y="185.60" textLength="66.75" lengthAdjust="spacingAndGlyphs">400</text>
<text x="1846.00" y="63.80" textLength="66.75" lengthAdjust="spacingAndGlyphs">600</text>
<text x="2367.81" y="59.40" textLength="54.54" lengthAdjust="spacingAndGlyphs">OA</text>
<text x="2368.94" y="100.20" textLength="73.06" lengthAdjust="spacingAndGlyphs">KBD</text>
<text x="2367.61" y="141.40" textLength="134.57" lengthAdjust="spacingAndGlyphs">Control</text>
<text x="2139.69" y="462.00" textLength="122.93" lengthAdjust="spacingAndGlyphs">PIIANP</text>
<text transform="translate(1821.75,290.50) rotate(-90)" x="-3.15" y="0" textLength="116.89" lengthAdjust="spacingAndGlyphs">ng/mL</text>
<text x="119.40" y="964.70" textLength="22.25" lengthAdjust="spacingAndGlyphs">0</text>
<text x="75.40" y="891.50" textLength="66.75" lengthAdjust="spacingAndGlyphs">100</text>
<text x="75.40" y="818.90" textLength="66.75" lengthAdjust="spacingAndGlyphs">200</text>
<text x="75.40" y="746.20" textLength="66.75" lengthAdjust="spacingAndGlyphs">300</text>
<text x="75.40" y="674.40" textLength="66.75" lengthAdjust="spacingAndGlyphs">400</text>
<text x="75.40" y="601.25" textLength="66.75" lengthAdjust="spacingAndGlyphs">500</text>
<text x="371.86" y="548.60" textLength="141.00" lengthAdjust="spacingAndGlyphs"><tspan font-style="italic">P</tspan> &lt; 0.05</text>
<text x="277.65" y="620.10" textLength="141.91" lengthAdjust="spacingAndGlyphs"><tspan font-style="italic">P</tspan> &lt; 0.05</text>
<text x="466.15" y="619.10" textLength="141.91" lengthAdjust="spacingAndGlyphs"><tspan font-style="italic">P</tspan> &lt; 0.05</text>
<text x="219.58" y="1001.60" textLength="55.49" lengthAdjust="spacingAndGlyphs">OA</text>
<text x="393.42" y="1001.60" textLength="76.16" lengthAdjust="spacingAndGlyphs">KBD</text>
<text x="549.39" y="1001.60" textLength="136.13" lengthAdjust="spacingAndGlyphs">Control</text>
<text x="378.47" y="1053.00" textLength="105.33" lengthAdjust="spacingAndGlyphs">TNF-a</text>
<text transform="translate(53.25,826.50) rotate(-90)" x="-3.18" y="0" textLength="117.72" lengthAdjust="spacingAndGlyphs">pg/mL</text>
<text x="982.20" y="964.30" textLength="22.25" lengthAdjust="spacingAndGlyphs">0</text>
<text x="960.20" y="843.90" textLength="44.50" lengthAdjust="spacingAndGlyphs">50</text>
<text x="938.20" y="722.30" textLength="66.75" lengthAdjust="spacingAndGlyphs">100</text>
<text x="938.20" y="600.75" textLength="66.75" lengthAdjust="spacingAndGlyphs">150</text>
<text x="1228.66" y="548.70" textLength="140.49" lengthAdjust="spacingAndGlyphs"><tspan font-style="italic">P</tspan> &lt; 0.05</text>
<text x="1153.06" y="625.50" textLength="140.59" lengthAdjust="spacingAndGlyphs"><tspan font-style="italic">P</tspan> &lt; 0.05</text>
<text x="1336.65" y="625.50" textLength="142.11" lengthAdjust="spacingAndGlyphs"><tspan font-style="italic">P</tspan> &lt; 0.05</text>
<text x="1093.52" y="1002.00" textLength="54.22" lengthAdjust="spacingAndGlyphs">OA</text>
<text x="1268.75" y="1002.00" textLength="75.31" lengthAdjust="spacingAndGlyphs">KBD</text>
<text x="1422.49" y="1002.00" textLength="135.92" lengthAdjust="spacingAndGlyphs">Control</text>
<text x="1249.00" y="1052.60" textLength="113.90" lengthAdjust="spacingAndGlyphs">COMP</text>
<text transform="translate(917.50,815.25) rotate(-90)" x="-3.17" y="0" textLength="94.69" lengthAdjust="spacingAndGlyphs">μ/mL</text>
<text x="1890.00" y="965.00" textLength="22.25" lengthAdjust="spacingAndGlyphs">0</text>
<text x="1810.76" y="873.10" textLength="101.36" lengthAdjust="spacingAndGlyphs">1,000</text>
<text x="1811.80" y="783.60" textLength="100.32" lengthAdjust="spacingAndGlyphs">2,000</text>
<text x="1811.80" y="691.80" textLength="100.32" lengthAdjust="spacingAndGlyphs">3,000</text>
<text x="1812.81" y="600.75" textLength="99.29" lengthAdjust="spacingAndGlyphs">4,000</text>
<text x="2113.16" y="558.50" textLength="140.89" lengthAdjust="spacingAndGlyphs"><tspan font-style="italic">P</tspan> &lt; 0.05</text>
<text x="2034.36" y="625.50" textLength="140.49" lengthAdjust="spacingAndGlyphs"><tspan font-style="italic">P</tspan> &lt; 0.05</text>
<text x="2231.35" y="698.50" textLength="142.01" lengthAdjust="spacingAndGlyphs"><tspan font-style="italic">P</tspan> &lt; 0.05</text>
<text x="1991.30" y="1001.60" textLength="54.96" lengthAdjust="spacingAndGlyphs">OA</text>
<text x="2166.58" y="1001.60" textLength="74.56" lengthAdjust="spacingAndGlyphs">KBD</text>
<text x="2321.19" y="1001.60" textLength="135.92" lengthAdjust="spacingAndGlyphs">Control</text>
<text x="2152.29" y="1052.50" textLength="104.83" lengthAdjust="spacingAndGlyphs">CTX-II</text>
<text transform="translate(1799.00,826.50) rotate(-90)" x="-3.15" y="0" textLength="116.89" lengthAdjust="spacingAndGlyphs">pg/mL</text>
</g>
</svg>
</body></html>
